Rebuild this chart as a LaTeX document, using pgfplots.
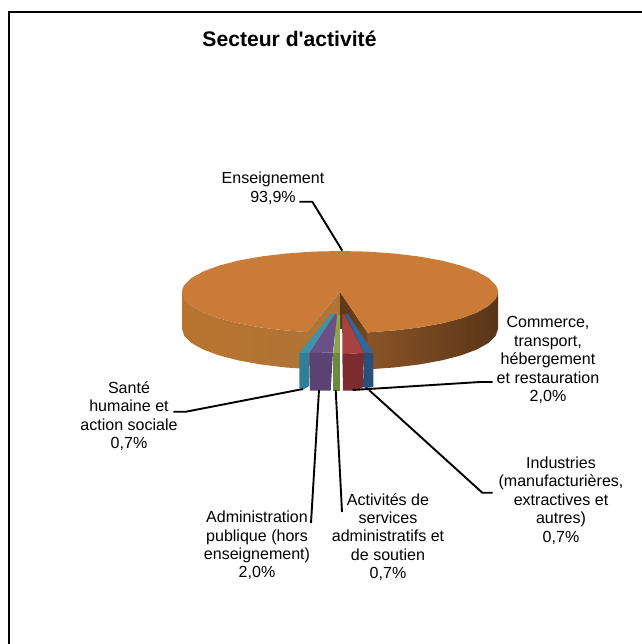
\documentclass[border=0pt]{standalone}
\usepackage{pgfplots}
\pgfplotsset{compat=1.18}
\usepackage{fontspec}
\setmainfont{Liberation Sans}
\definecolor{orTop}{HTML}{CA7B37}
\definecolor{orEdge}{HTML}{B8742F}
\definecolor{orWall}{HTML}{C87A37}
\definecolor{orNotch}{HTML}{B07436}
\definecolor{brA}{HTML}{8A5426}
\definecolor{brB}{HTML}{5C3618}
\definecolor{brC}{HTML}{5A3518}
\definecolor{tealTop}{HTML}{3E93A9}
\definecolor{tealFront}{HTML}{2F7F98}
\definecolor{purpTop}{HTML}{6B5087}
\definecolor{purpFront}{HTML}{5A4272}
\definecolor{grnTop}{HTML}{8DA34C}
\definecolor{grnFront}{HTML}{6C8A3F}
\definecolor{redTop}{HTML}{A64242}
\definecolor{redFront}{HTML}{7C2C2E}
\definecolor{bluTop}{HTML}{2E689E}
\definecolor{bluFront}{HTML}{2A4F7A}
\tikzset{lb/.style={inner sep=0pt, outer sep=0pt, align=center, font=\fontsize{16.1}{18.5}\selectfont, text=black}}
\begin{document}
\begin{tikzpicture}
\useasboundingbox (0,0) rectangle (642bp,644bp);
\begin{axis}[
  at={(0,0)}, anchor=south west,
  scale only axis, width=642bp, height=644bp,
  xmin=0, xmax=642, ymin=0, ymax=644, y dir=reverse,
  axis lines=none, clip=true
]
% frame (top and left only)
\addplot[black, line width=2.5bp] coordinates {(9,644) (9,12.2) (642,12.2)};
% left outer wall
\addplot[draw=none, left color=orEdge, middle color=orWall, right color=orNotch] coordinates {
(182,292)(184.4,299.1)(191.5,306)(203.2,312.5)(219,318.4)(238.4,323.4)(261,327.5)(286,330.5)(307,332)
(307,369)(286,367.5)(261,364.5)(238.4,360.4)(219,355.4)(203.2,349.5)(191.5,343)(184.4,336.1)(182,329)};
% right outer wall
\addplot[draw=none, left color=brA, middle color=brB, right color=brC] coordinates {
(367.4,332.4)(394,330.5)(419,327.5)(441.6,323.4)(461,318.4)(476.8,312.5)(488.5,306)(495.6,299.1)(498,292)
(498,329)(495.6,336.1)(488.5,343)(476.8,349.5)(461,355.4)(441.6,360.4)(419,364.5)(394,367.5)(367.4,369.4)};
% notch faces
\addplot[draw=none, fill=orNotch] coordinates {(340,292)(307,332)(307,369)(340,329)};
\addplot[draw=none, left color=brB, right color=brA!85!black] coordinates {(340,292)(367.4,332.4)(367.4,369.4)(340,329)};
% top surface: 93,9 %
\addplot[draw=none, fill=orTop] coordinates {
(340,292)(367.4,332.4)(394,330.5)(419,327.5)(441.6,323.4)(461,318.4)(476.8,312.5)(488.5,306)(495.6,299.1)(497.4,295.6)(498,292)(497.4,288.4)
(495.6,284.9)(488.5,278)(476.8,271.5)(461,265.6)(441.6,260.6)(419,256.5)(394,253.5)(367.4,251.6)(340,251)
(312.6,251.6)(286,253.5)(261,256.5)(238.4,260.6)(219,265.6)(203.2,271.5)(191.5,278)(184.4,284.9)(182.6,288.4)(182,292)(182.6,295.6)
(184.4,299.1)(191.5,306)(203.2,312.5)(219,318.4)(238.4,323.4)(261,327.5)(286,330.5)(307,332)};
% teal 0,7 %
\addplot[draw=none, fill=tealTop] coordinates {(331.7,313.3)(335,314.3)(309.3,353)(299.3,353)};
\addplot[draw=none, fill=tealFront] coordinates {(299.3,353)(309.3,353)(309.3,386)(303,389.5)(299.3,388)};
% purple 2,0 %
\addplot[draw=none, fill=purpTop] coordinates {(335,314)(337,315)(333,352.5)(309.3,353)};
\addplot[draw=none, fill=purpFront] coordinates {(309.3,353)(333,352.5)(330.7,390.5)(310,390.5)};
% green 0,7 %
\addplot[draw=none, fill=grnTop] coordinates {(337.3,315)(340,315)(340,353)(333.3,353)};
\addplot[draw=none, fill=grnFront] coordinates {(333.3,353)(340,353)(340,390.5)(333.3,390.5)};
% red 0,7 %
\addplot[draw=none, fill=redTop] coordinates {(342.3,314)(345,315)(364,353.3)(342.3,354)};
\addplot[draw=none, fill=redFront] coordinates {(342.3,354)(364,353.3)(362.7,388)(353,390.5)(343,390.5)};
% blue 2,0 %
\addplot[draw=none, fill=bluTop] coordinates {(345,313.5)(347.7,314)(373.3,352.7)(364.3,352.7)};
\addplot[draw=none, fill=bluFront] coordinates {(364,353)(373.3,353)(373.3,387)(366,388)(363,387)};
% white gap
\addplot[draw=none, fill=white] coordinates {(340,329)(342.3,329)(342.3,391)(340,391)};
% leaders
\addplot[black, line width=1.9bp] coordinates {(299.3,201.7)(312.3,201.7)(342.3,250.7)};
\addplot[black, line width=1.9bp] coordinates {(352.7,390)(480,382)(492.7,382)};
\addplot[black, line width=1.9bp] coordinates {(369,390)(482.3,492.7)(492.7,492.7)};
\addplot[black, line width=1.9bp] coordinates {(335.7,390)(342,512)};
\addplot[black, line width=1.9bp] coordinates {(319,390)(311,523)};
\addplot[black, line width=1.9bp] coordinates {(303,389)(186,411.7)(173.3,411.7)};
% texts
\node[inner sep=0pt, font=\fontsize{21.2}{24}\selectfont\bfseries, anchor=base] at (axis cs:289.5,47) {Secteur d\textquotesingle activité};
\node[lb] at (axis cs:273,188) {Enseignement\\93,9\%};
\node[lb] at (axis cs:548,360) {Commerce,\\transport,\\hébergement\\et restauration\\2,0\%};
\node[lb] at (axis cs:561,500.5) {Industries\\(manufacturières,\\extractives et\\autres)\\0,7\%};
\node[lb] at (axis cs:388,537) {Activités de\\services\\administratifs et\\de soutien\\0,7\%};
\node[lb] at (axis cs:257,545.5) {Administration\\publique (hors\\enseignement)\\2,0\%};
\node[lb] at (axis cs:129,416) {Santé\\humaine et\\action sociale\\0,7\%};
\end{axis}
\end{tikzpicture}
\end{document}
